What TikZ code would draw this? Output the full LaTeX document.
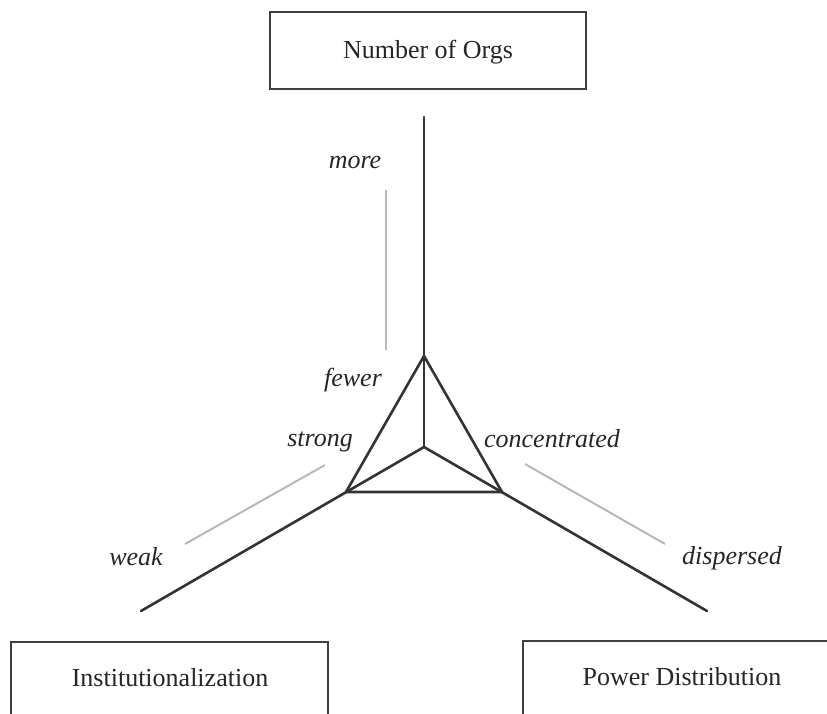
\documentclass[tikz,border=0pt]{standalone}
\usepackage{fontspec}
\setmainfont{Liberation Serif}
\begin{document}
\begin{tikzpicture}[x=1pt,y=-1pt,
  axis/.style={draw=black!80,line width=2.6pt},
  guide/.style={draw=black!28,line width=2pt},
  dimbox/.style={draw=black!75,line width=2.6pt,minimum width=316pt,inner sep=0pt},
  boxtext/.style={font=\fontsize{26}{30}\selectfont,text=black!85,inner sep=0pt},
  pole/.style={font=\fontsize{26}{30}\selectfont\itshape,text=black!85,inner sep=0pt}]
\useasboundingbox (0,0) rectangle (827,713);
% boxes
\draw[dimbox] (270,12) rectangle (586,89);
\node[boxtext] (orgs) at (428,52) {Number of Orgs};
\draw[dimbox] (11,642) rectangle (328,740);
\node[boxtext] (inst) at (170,678) {Institutionalization};
\draw[dimbox] (523,641) rectangle (840,740);
\node[boxtext] (power) at (682,677) {Power Distribution};
% axes
\coordinate (C) at (424,447);
\coordinate (T) at (424,117);
\coordinate (L) at (141,611);
\coordinate (R) at (707,611);
\coordinate (TT) at (424,356);
\coordinate (TL) at (346,492);
\coordinate (TR) at (502,492);
\draw[axis,line cap=round] (T) -- (C);
\draw[axis,line cap=round] (C) -- (L);
\draw[axis,line cap=round] (C) -- (R);
\draw[axis,line join=miter] (TT) -- (TL) -- (TR) -- cycle;
% guides
\coordinate (g1a) at (386,190);
\coordinate (g1b) at (386,350);
\coordinate (g2a) at (185,544);
\coordinate (g2b) at (325,465);
\coordinate (g3a) at (525,464);
\coordinate (g3b) at (665,544);
\draw[guide] (g1a) -- (g1b);
\draw[guide] (g2a) -- (g2b);
\draw[guide] (g3a) -- (g3b);
% labels
\node[pole] (more) at (355,162) {more};
\node[pole] (fewer) at (353,380) {fewer};
\node[pole] (strong) at (320,442) {strong};
\node[pole] (weak) at (136,557) {weak};
\node[pole] (conc) at (552,439) {concentrated};
\node[pole] (disp) at (732,558) {dispersed};
\end{tikzpicture}
\end{document}
